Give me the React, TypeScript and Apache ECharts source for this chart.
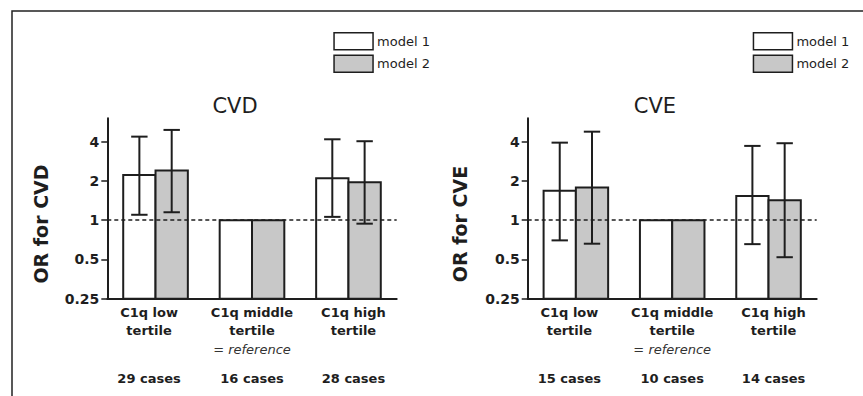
import React, { useEffect, useRef } from "react";
import * as echarts from "echarts";

// ---- data ----
const categories = ["C1q low\ntertile", "C1q middle\ntertile", "C1q high\ntertile"];
const referenceNotes = ["", "= reference", ""];
const casesCVD = ["29 cases", "16 cases", "28 cases"];
const casesCVE = ["15 cases", "10 cases", "14 cases"];
const yTicks = [0.25, 0.5, 1, 2, 4];
const seriesNames = ["model 1", "model 2"];
const panelTitles = ["CVD", "CVE"];
const axisNames = ["OR for CVD", "OR for CVE"];

const cvdModel1 = [2.22, 1, 2.1];
const cvdModel1Low = [1.1, null, 1.06];
const cvdModel1High = [4.37, null, 4.17];
const cvdModel2 = [2.4, 1, 1.95];
const cvdModel2Low = [1.15, null, 0.94];
const cvdModel2High = [4.92, null, 4.03];

const cveModel1 = [1.68, 1, 1.53];
const cveModel1Low = [0.7, null, 0.655];
const cveModel1High = [3.93, null, 3.71];
const cveModel2 = [1.78, 1, 1.42];
const cveModel2Low = [0.66, null, 0.52];
const cveModel2High = [4.77, null, 3.89];

const Y_MIN = 0.25;
const Y_MAX = 6.04;

const FONT = "DejaVu Sans";
const INK = "#1e1e1e";
const FILLS = ["#ffffff", "#c8c8c8"];
// horizontal nudge of each category's label block (px)
const LABEL_SHIFT = [-6.5, 0, 5];

function rows(v: number[], lo: (number | null)[], hi: (number | null)[]) {
  return v.map((val, i) => [i, val, lo[i] == null ? "-" : lo[i], hi[i] == null ? "-" : hi[i]]);
}

function makeRender(side: number, fill: string) {
  return (params: any, api: any) => {
    const cat = api.value(0);
    const val = api.value(1);
    const lo = api.value(2);
    const hi = api.value(3);
    const band = api.size([1, 0], [cat, 1])[0];
    const barW = band * 0.335;
    const top = api.coord([cat, val]);
    const base = api.coord([cat, Y_MIN]);
    const x0 = side < 0 ? top[0] - barW : top[0];
    const cx = x0 + barW / 2;
    const children: any[] = [
      {
        type: "rect",
        shape: { x: x0, y: top[1], width: barW, height: base[1] - top[1] },
        style: { fill, stroke: INK, lineWidth: 2 },
      },
    ];
    if (typeof lo === "number" && !isNaN(lo) && typeof hi === "number" && !isNaN(hi)) {
      const pl = api.coord([cat, lo]);
      const ph = api.coord([cat, hi]);
      const cap = band * 0.085;
      const ls = { stroke: INK, lineWidth: 2 };
      children.push(
        { type: "line", shape: { x1: cx, y1: pl[1], x2: cx, y2: ph[1] }, style: ls },
        { type: "line", shape: { x1: cx - cap, y1: pl[1], x2: cx + cap, y2: pl[1] }, style: ls },
        { type: "line", shape: { x1: cx - cap, y1: ph[1], x2: cx + cap, y2: ph[1] }, style: ls }
      );
    }
    return { type: "group", children };
  };
}

function padFor(s: number) {
  return s < 0 ? [0, -2 * s, 0, 0] : [0, 0, 0, 2 * s];
}

export default function App() {
  const ref = useRef<HTMLDivElement>(null);
  useEffect(() => {
    document.body.style.margin = "0";
    if (!ref.current) return;
    const chart = echarts.init(ref.current, null, { renderer: "svg" });

    const grids = [
      { left: 107.3, right: 466.3, top: 118.3, bottom: 97.3 },
      { left: 527.7, right: 46.3, top: 118.3, bottom: 97.3 },
    ];
    const casesList = [casesCVD, casesCVE];

    const rich: any = {};
    LABEL_SHIFT.forEach((s, k) => {
      const padding = padFor(s);
      rich["b" + k] = { fontFamily: FONT, fontWeight: "bold", fontSize: 13, lineHeight: 18.5, color: INK, padding };
      rich["i" + k] = { fontFamily: FONT, fontStyle: "italic", fontSize: 13, lineHeight: 18.5, color: "#333", padding };
      rich["c" + k] = { fontFamily: FONT, fontWeight: "bold", fontSize: 13, lineHeight: 40, color: INK, padding };
    });

    const xAxes = [0, 1].map((g) => ({
      type: "category",
      gridIndex: g,
      data: categories,
      axisLine: { lineStyle: { color: INK, width: 2 } },
      axisTick: { show: false },
      axisLabel: {
        interval: 0,
        margin: 4.5,
        color: INK,
        formatter: (value: string, idx: number) => {
          const [l1, l2] = value.split("\n");
          const note = referenceNotes[idx] || " ";
          return `{b${idx}|${l1}}\n{b${idx}|${l2}}\n{i${idx}|${note}}\n{c${idx}|${casesList[g][idx]}}`;
        },
        rich,
      },
    }));

    const yAxes = [0, 1].map((g) => ({
      type: "log",
      logBase: 2,
      gridIndex: g,
      min: Y_MIN,
      max: Y_MAX,
      splitLine: { show: false },
      axisLine: { show: true, lineStyle: { color: INK, width: 2 } },
      axisTick: { show: true, length: 6, lineStyle: { color: INK, width: 1.5 }, customValues: yTicks },
      axisLabel: {
        customValues: yTicks,
        margin: 8,
        fontFamily: FONT,
        fontWeight: "bold",
        fontSize: 14,
        color: INK,
        formatter: (v: number) => String(v),
      },
    }));

    const panelData = [
      [rows(cvdModel1, cvdModel1Low, cvdModel1High), rows(cvdModel2, cvdModel2Low, cvdModel2High)],
      [rows(cveModel1, cveModel1Low, cveModel1High), rows(cveModel2, cveModel2Low, cveModel2High)],
    ];

    const series: any[] = [];
    [0, 1].forEach((g) => {
      [0, 1].forEach((m) => {
        series.push({
          type: "custom",
          name: seriesNames[m],
          xAxisIndex: g,
          yAxisIndex: g,
          data: panelData[g][m],
          encode: { x: 0, y: 1 },
          itemStyle: { color: FILLS[m], borderColor: INK, borderWidth: 1.5 },
          renderItem: makeRender(m === 0 ? -1 : 1, FILLS[m]),
          z: 3,
          markLine:
            m === 0
              ? {
                  silent: true,
                  symbol: "none",
                  label: { show: false },
                  lineStyle: { type: [4, 3], color: INK, width: 1.5 },
                  data: [{ yAxis: 1 }],
                  z: 5,
                }
              : undefined,
        });
      });
    });

    const legendFor = (left: number) => ({
      orient: "vertical",
      left,
      top: 32,
      padding: 0,
      itemWidth: 39,
      itemHeight: 17,
      itemGap: 4,
      icon: "rect",
      selectedMode: false,
      textStyle: { fontFamily: FONT, fontSize: 13, color: INK, padding: [0, 0, 0, -1] },
      data: seriesNames.map((n, i) => ({
        name: n,
        icon: "rect",
        itemStyle: { color: FILLS[i], borderColor: INK, borderWidth: 1.5 },
      })),
    });

    const titleCenters = [235, 655];
    const nameCenters = [41, 460];

    chart.setOption({
      animation: false,
      grid: grids,
      xAxis: xAxes,
      yAxis: yAxes,
      series,
      legend: [legendFor(333.3), legendFor(752.7)],
      graphic: [
        {
          type: "polyline",
          shape: { points: [[12, 396], [12, 11], [863, 11]] },
          style: { stroke: "#222", lineWidth: 1.5, fill: "none" },
        },
        ...panelTitles.map((t, i) => ({
          type: "text",
          x: titleCenters[i],
          y: 105.5,
          style: {
            text: t,
            fontFamily: FONT,
            fontSize: 21,
            fill: INK,
            align: "center",
            verticalAlign: "middle",
          },
        })),
        ...axisNames.map((t, i) => ({
          type: "text",
          x: nameCenters[i],
          y: 224,
          rotation: Math.PI / 2,
          style: {
            text: t,
            fontFamily: FONT,
            fontSize: 19,
            fontWeight: "bold",
            fill: INK,
            align: "center",
            verticalAlign: "middle",
          },
        })),
      ],
    });
    return () => chart.dispose();
  }, []);
  return <div ref={ref} style={{ width: 863, height: 396 }} />;
}
